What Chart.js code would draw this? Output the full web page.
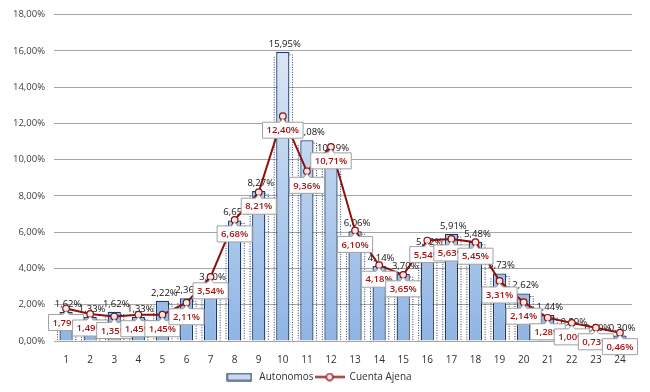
<!DOCTYPE html>
<html>
<head>
<meta charset="utf-8">
<script src="https://cdn.jsdelivr.net/npm/chart.js@4"></script>
<style>
  body { margin: 0; background: #fff; }
  #caja { width: 650px; height: 392px; }
</style>
</head>
<body>
<div id="caja"><canvas id="grafico" width="650" height="392"></canvas></div>
<script>
const categorias = ['1','2','3','4','5','6','7','8','9','10','11','12','13','14','15','16','17','18','19','20','21','22','23','24'];
const autonomos = [1.62, 1.33, 1.62, 1.33, 2.22, 2.36, 3.10, 6.65, 8.27, 15.95, 11.08, 10.19, 6.06, 4.14, 3.70, 5.02, 5.91, 5.48, 3.73, 2.62, 1.44, 0.59, 0.30, 0.30];
const cuentaAjena = [1.79, 1.49, 1.35, 1.45, 1.45, 2.11, 3.54, 6.68, 8.21, 12.40, 9.36, 10.71, 6.10, 4.18, 3.65, 5.54, 5.63, 5.45, 3.31, 2.14, 1.28, 1.00, 0.73, 0.46];
const ticksY = [0, 2, 4, 6, 8, 10, 12, 14, 16, 18];

const fuente = '"Open Sans", "DejaVu Sans", sans-serif';
const rojo = '#8b1010';
const azulBorde = '#1f3864';

function porcentaje(v) {
    return v.toFixed(2).replace('.', ',') + '%';
}

// simbolos de la leyenda
function simboloBarra() {
    const c = document.createElement('canvas');
    c.width = 26; c.height = 9;
    const x = c.getContext('2d');
    x.fillStyle = '#c9daf0';
    x.fillRect(1, 1, 24, 7);
    x.strokeStyle = azulBorde;
    x.lineWidth = 1.2;
    x.strokeRect(1, 1, 24, 7);
    return c;
}
function simboloLinea() {
    const c = document.createElement('canvas');
    c.width = 30; c.height = 9;
    const x = c.getContext('2d');
    x.strokeStyle = rojo;
    x.lineWidth = 2;
    x.beginPath(); x.moveTo(0, 4.5); x.lineTo(30, 4.5); x.stroke();
    x.fillStyle = '#fbe9e9';
    x.lineWidth = 1.3;
    x.beginPath(); x.arc(15, 4.5, 3.3, 0, Math.PI * 2); x.fill(); x.stroke();
    return c;
}

const etiquetas = {
    id: 'etiquetas',
    afterDatasetDraw(chart, args) {
        const ctx = chart.ctx;
        const meta = chart.getDatasetMeta(args.index);
        ctx.save();
        if (args.index === 0) {
            // sombra punteada de las barras
            ctx.strokeStyle = '#2a3a5a';
            ctx.lineWidth = 1;
            ctx.setLineDash([1, 1.5]);
            meta.data.forEach(function (b) {
                const dx = b.x + b.width / 2 + 3;
                ctx.beginPath();
                ctx.moveTo(b.x + b.width / 2, b.y + 3);
                ctx.lineTo(dx, b.y + 3);
                ctx.lineTo(dx, b.base);
                ctx.stroke();
                ctx.beginPath();
                ctx.moveTo(b.x - b.width / 2 - 2, b.y + 5);
                ctx.lineTo(b.x - b.width / 2 - 2, b.base);
                ctx.stroke();
            });
            ctx.setLineDash([]);
            ctx.font = '9.5px ' + fuente;
            ctx.fillStyle = '#111';
            ctx.textAlign = 'center';
            ctx.textBaseline = 'bottom';
            meta.data.forEach(function (b, i) {
                ctx.fillText(porcentaje(autonomos[i]), b.x + 2, b.y - 3);
            });
        } else {
            ctx.font = '600 9.5px ' + fuente;
            ctx.textAlign = 'center';
            ctx.textBaseline = 'middle';
            meta.data.forEach(function (p, i) {
                const txt = porcentaje(cuentaAjena[i]);
                const w = ctx.measureText(txt).width + 8;
                const h = 16;
                const x0 = p.x - w / 2;
                const y0 = p.y + 6;
                ctx.fillStyle = '#fff';
                ctx.strokeStyle = '#a0a0a0';
                ctx.lineWidth = 1;
                ctx.beginPath();
                ctx.moveTo(x0, y0);
                ctx.lineTo(p.x - 3, y0);
                ctx.lineTo(p.x, p.y + 2);
                ctx.lineTo(p.x + 3, y0);
                ctx.lineTo(x0 + w, y0);
                ctx.lineTo(x0 + w, y0 + h);
                ctx.lineTo(x0, y0 + h);
                ctx.closePath();
                ctx.fill();
                ctx.stroke();
                ctx.fillStyle = '#a31515';
                ctx.fillText(txt, p.x, y0 + h / 2 + 0.5);
            });
        }
        ctx.restore();
    }
};

const lienzo = document.getElementById('grafico');

new Chart(lienzo, {
    type: 'bar',
    data: {
        labels: categorias,
        datasets: [{
            label: 'Autonomos',
            data: autonomos,
            order: 1,
            backgroundColor: function (c) {
                const area = c.chart.chartArea;
                if (!area) return '#c9daf0';
                const g = c.chart.ctx.createLinearGradient(0, area.top, 0, area.bottom);
                g.addColorStop(0, '#e3ecf8');
                g.addColorStop(1, '#8fb5e5');
                return g;
            },
            borderColor: azulBorde,
            borderWidth: 1.3,
            barPercentage: 0.55,
            categoryPercentage: 1
        }, {
            label: 'Cuenta Ajena',
            type: 'line',
            data: cuentaAjena,
            order: 0,
            borderColor: rojo,
            borderWidth: 2,
            tension: 0,
            pointRadius: 3.3,
            pointBackgroundColor: '#fbe9e9',
            pointBorderColor: rojo,
            pointBorderWidth: 1.2
        }]
    },
    options: {
        responsive: false,
        animation: false,
        layout: { padding: { top: 6, right: 18, left: 4, bottom: 0 } },
        scales: {
            y: {
                min: 0,
                max: 18,
                afterBuildTicks: function (axis) {
                    axis.ticks = ticksY.map(function (v) { return { value: v }; });
                },
                ticks: {
                    callback: function (v) { return porcentaje(v); },
                    color: '#404040',
                    font: { family: fuente, size: 9.5 },
                    padding: 9
                },
                grid: { color: '#a6a6a6', lineWidth: 1, drawTicks: false },
                border: { display: false }
            },
            x: {
                afterFit: function (axis) { axis.height = 30; },
                ticks: {
                    color: '#303030',
                    font: { family: fuente, size: 10 },
                    padding: 5
                },
                grid: { display: false },
                border: { display: true, color: '#a6a6a6' }
            }
        },
        plugins: {
            legend: {
                position: 'bottom',
                labels: {
                    usePointStyle: true,
                    pointStyleWidth: 30,
                    color: '#303030',
                    font: { family: fuente, size: 10 },
                    padding: 1,
                    generateLabels: function (chart) {
                        return chart.data.datasets.map(function (d, i) {
                            return {
                                text: d.label,
                                datasetIndex: i,
                                pointStyle: i === 0 ? simboloBarra() : simboloLinea(),
                                fillStyle: 'transparent',
                                strokeStyle: 'transparent',
                                lineWidth: 0,
                                fontColor: '#303030'
                            };
                        });
                    }
                }
            },
            tooltip: { enabled: false }
        }
    },
    plugins: [etiquetas]
});
</script>
</body>
</html>
